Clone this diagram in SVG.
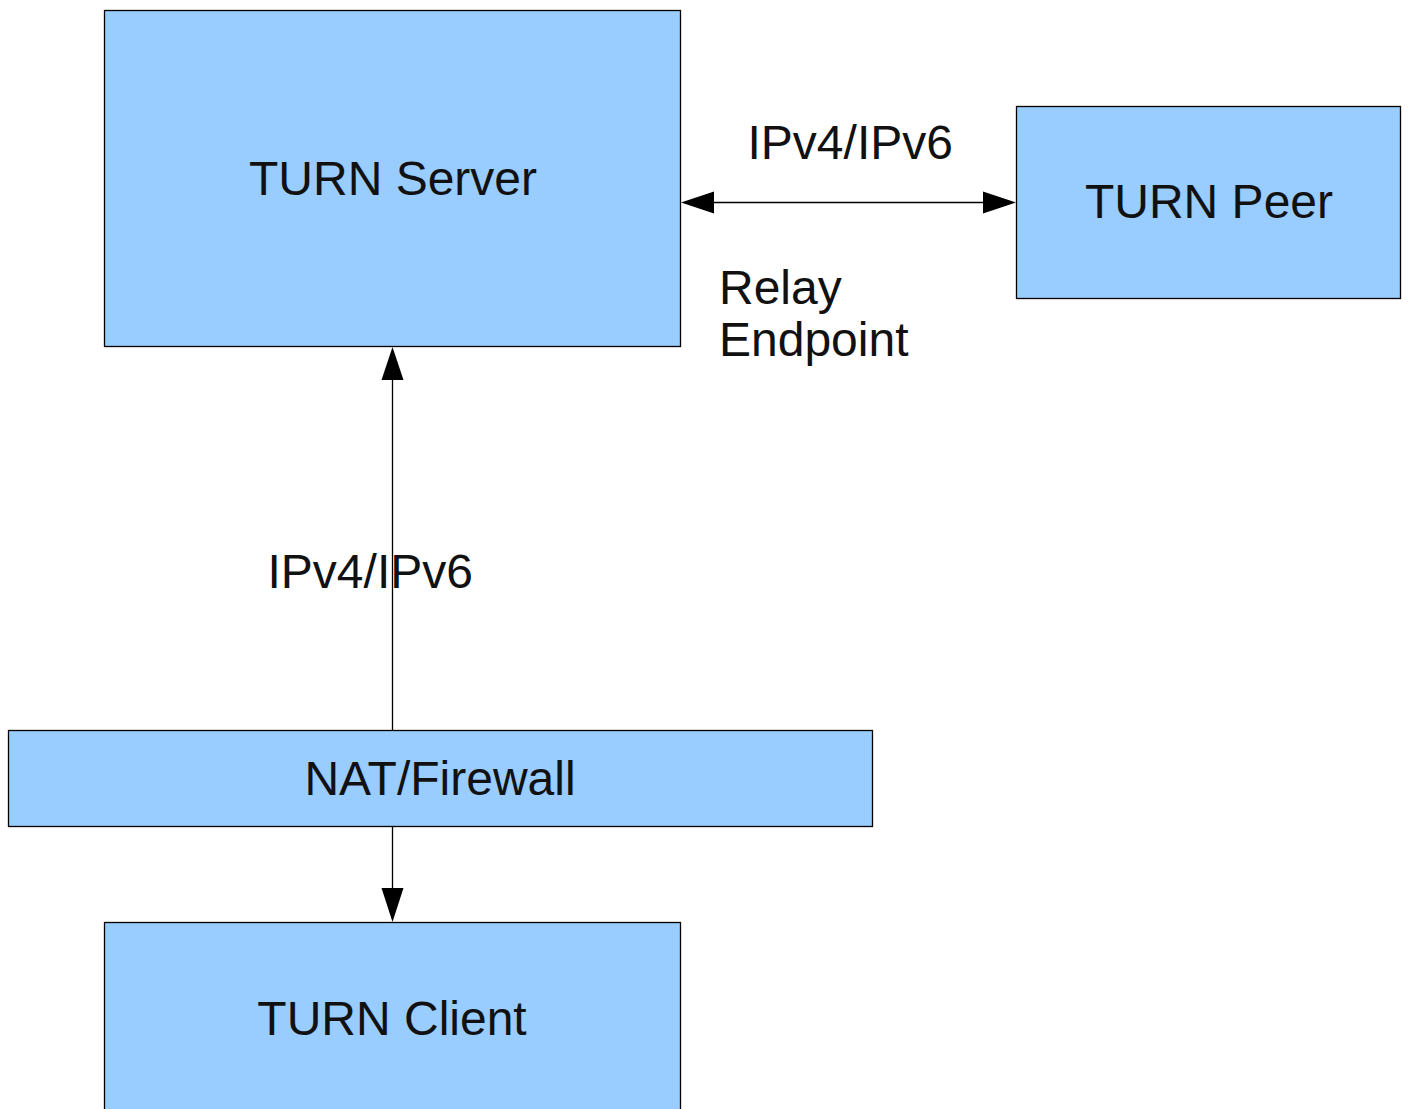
<svg xmlns="http://www.w3.org/2000/svg" width="1408" height="1109" viewBox="0 0 1408 1109">
<style>
.box{fill:#99ccff;stroke:#000;stroke-width:1.3}
.t{font-family:"Liberation Sans",Arial,sans-serif;font-size:48px;fill:#111}
.c{text-anchor:middle}
.ln{stroke:#000;stroke-width:1.3;fill:none}
.ah{fill:#000}
</style>
<rect width="1408" height="1109" fill="#fff"/>
<g id="turn-server">
<rect class="box" x="104.5" y="10.5" width="576" height="336"/>
<text class="t c" x="393" y="195">TURN Server</text>
</g>
<g id="turn-peer">
<rect class="box" x="1016.5" y="106.5" width="384" height="192"/>
<text class="t c" x="1209" y="218">TURN Peer</text>
</g>
<g id="nat-firewall">
<rect class="box" x="8.5" y="730.5" width="864" height="96"/>
<text class="t c" x="440" y="795">NAT/Firewall</text>
</g>
<g id="turn-client">
<rect class="box" x="104.5" y="922.5" width="576" height="200"/>
<text class="t c" x="392" y="1035">TURN Client</text>
</g>
<g id="connectors">
<line class="ln" x1="713" y1="202.5" x2="984" y2="202.5"/>
<polygon class="ah" points="681,202.5 714,191.5 714,213.5"/>
<polygon class="ah" points="1016,202.5 983,191.5 983,213.5"/>
<line class="ln" x1="392.5" y1="379" x2="392.5" y2="730"/>
<polygon class="ah" points="392.5,347 381.5,380 403.5,380"/>
<line class="ln" x1="392.5" y1="827" x2="392.5" y2="889"/>
<polygon class="ah" points="392.5,922 381.5,888 403.5,888"/>
</g>
<g id="labels">
<text class="t" x="747.5" y="159">IPv4/IPv6</text>
<text class="t" x="719" y="304">Relay</text>
<text class="t" x="719" y="356">Endpoint</text>
<text class="t" x="267.5" y="588">IPv4/IPv6</text>
</g>
</svg>
